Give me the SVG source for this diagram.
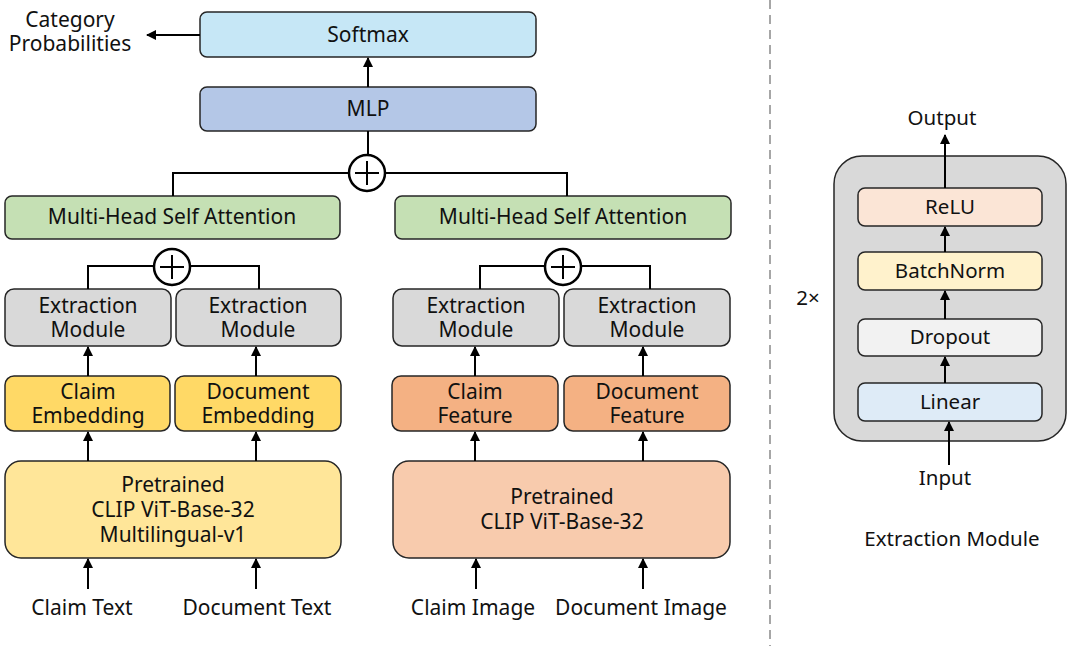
<svg xmlns="http://www.w3.org/2000/svg" width="1067" height="646" viewBox="0 0 1067 646">
  <style>
    .box { stroke: #262626; stroke-width: 1.5; }
    .t { font-family: "Noto Sans", "Open Sans", sans-serif; font-size: 21px; fill: #111; text-anchor: middle; }
    .s { font-family: "Noto Sans", "Open Sans", sans-serif; font-size: 20.5px; fill: #111; text-anchor: middle; }
    .ln { stroke: #000; stroke-width: 2; fill: none; }
    .arr { stroke: #000; stroke-width: 2; fill: none; marker-end: url(#ah); }
  </style>
  <defs>
    <marker id="ah" viewBox="0 0 10 10" refX="9" refY="5" markerWidth="5" markerHeight="5" orient="auto" markerUnits="strokeWidth">
      <path d="M0,0 L10,5 L0,10 z" fill="#000"/>
    </marker>
  </defs>

  <rect width="1067" height="646" fill="#fff"/>

  <!-- output head -->
  <g id="softmax">
    <rect class="box" x="200" y="12" width="336" height="45" rx="7" fill="#c6e7f6"/>
    <text class="t" x="368" y="42">Softmax</text>
  </g>
  <g id="category-probabilities">
    <text class="t" x="70" y="27">Category<tspan x="70" dy="24">Probabilities</tspan></text>
  </g>
  <g id="mlp">
    <rect class="box" x="200" y="87" width="336" height="44" rx="7" fill="#b4c7e7"/>
    <text class="t" x="368" y="116">MLP</text>
  </g>
  <g id="fuse-top">
    <circle cx="367" cy="173" r="18" fill="#fff" stroke="#000" stroke-width="2.5"/>
    <path class="ln" d="M355,173 H379 M367,161 V185" stroke-width="2.5"/>
  </g>

  <!-- text branch -->
  <g id="mhsa-text">
    <rect class="box" x="5" y="196" width="335" height="43" rx="7" fill="#c5e0b4"/>
    <text class="t" x="172" y="224">Multi-Head Self Attention</text>
  </g>
  <g id="fuse-text">
    <circle cx="172" cy="267" r="18" fill="#fff" stroke="#000" stroke-width="2.5"/>
    <path class="ln" d="M160,267 H184 M172,255 V279" stroke-width="2.5"/>
  </g>
  <g id="extract-claim-text">
    <rect class="box" x="5" y="289" width="166" height="57" rx="9" fill="#d9d9d9"/>
    <text class="t" x="88" y="313">Extraction<tspan x="88" dy="24">Module</tspan></text>
  </g>
  <g id="extract-doc-text">
    <rect class="box" x="176" y="289" width="165" height="57" rx="9" fill="#d9d9d9"/>
    <text class="t" x="258" y="313">Extraction<tspan x="258" dy="24">Module</tspan></text>
  </g>
  <g id="claim-embedding">
    <rect class="box" x="5" y="376" width="165" height="55" rx="9" fill="#ffd966"/>
    <text class="t" x="88" y="399">Claim<tspan x="88" dy="24">Embedding</tspan></text>
  </g>
  <g id="document-embedding">
    <rect class="box" x="175" y="376" width="166" height="55" rx="9" fill="#ffd966"/>
    <text class="t" x="258" y="399">Document<tspan x="258" dy="24">Embedding</tspan></text>
  </g>
  <g id="clip-text">
    <rect class="box" x="5" y="461" width="336" height="97" rx="16" fill="#ffe699"/>
    <text class="t" x="173" y="492">Pretrained<tspan x="173" dy="25">CLIP ViT-Base-32</tspan><tspan x="173" dy="25">Multilingual-v1</tspan></text>
  </g>
  <g id="claim-text">
    <text class="t" x="82" y="615">Claim Text</text>
  </g>
  <g id="document-text">
    <text class="t" x="257" y="615">Document Text</text>
  </g>

  <!-- image branch -->
  <g id="mhsa-image">
    <rect class="box" x="395" y="196" width="336" height="43" rx="7" fill="#c5e0b4"/>
    <text class="t" x="563" y="224">Multi-Head Self Attention</text>
  </g>
  <g id="fuse-image">
    <circle cx="563" cy="267" r="18" fill="#fff" stroke="#000" stroke-width="2.5"/>
    <path class="ln" d="M551,267 H575 M563,255 V279" stroke-width="2.5"/>
  </g>
  <g id="extract-claim-image">
    <rect class="box" x="393" y="289" width="166" height="57" rx="9" fill="#d9d9d9"/>
    <text class="t" x="476" y="313">Extraction<tspan x="476" dy="24">Module</tspan></text>
  </g>
  <g id="extract-doc-image">
    <rect class="box" x="564" y="289" width="166" height="57" rx="9" fill="#d9d9d9"/>
    <text class="t" x="647" y="313">Extraction<tspan x="647" dy="24">Module</tspan></text>
  </g>
  <g id="claim-feature">
    <rect class="box" x="392" y="376" width="166" height="55" rx="9" fill="#f4b183"/>
    <text class="t" x="475" y="399">Claim<tspan x="475" dy="24">Feature</tspan></text>
  </g>
  <g id="document-feature">
    <rect class="box" x="564" y="376" width="166" height="55" rx="9" fill="#f4b183"/>
    <text class="t" x="647" y="399">Document<tspan x="647" dy="24">Feature</tspan></text>
  </g>
  <g id="clip-image">
    <rect class="box" x="393" y="461" width="337" height="97" rx="16" fill="#f8cbad"/>
    <text class="t" x="562" y="504">Pretrained<tspan x="562" dy="25">CLIP ViT-Base-32</tspan></text>
  </g>
  <g id="claim-image">
    <text class="t" x="473" y="615">Claim Image</text>
  </g>
  <g id="document-image">
    <text class="t" x="641" y="615">Document Image</text>
  </g>

  <!-- separator -->
  <line x1="770" y1="0" x2="770" y2="646" stroke="#a6a6a6" stroke-width="2" stroke-dasharray="9,6"/>

  <!-- extraction module detail -->
  <g id="extraction-module">
    <rect class="box" x="834" y="156" width="232" height="285" rx="28" fill="#d9d9d9"/>
    <text class="s" x="808" y="305">2×</text>
    <text class="s" x="952" y="546">Extraction Module</text>
  </g>
  <g id="relu">
    <rect class="box" x="858" y="188" width="184" height="38" rx="7" fill="#fbe5d6"/>
    <text class="s" x="950" y="214">ReLU</text>
  </g>
  <g id="batchnorm">
    <rect class="box" x="858" y="252" width="184" height="38" rx="7" fill="#fff2cc"/>
    <text class="s" x="950" y="278">BatchNorm</text>
  </g>
  <g id="dropout">
    <rect class="box" x="858" y="319" width="184" height="37" rx="7" fill="#f2f2f2"/>
    <text class="s" x="950" y="344">Dropout</text>
  </g>
  <g id="linear">
    <rect class="box" x="858" y="383" width="184" height="38" rx="7" fill="#deebf7"/>
    <text class="s" x="950" y="409">Linear</text>
  </g>
  <g id="output-label">
    <text class="s" x="942" y="125">Output</text>
  </g>
  <g id="input-label">
    <text class="s" x="945" y="485">Input</text>
  </g>

  <!-- connectors -->
  <g id="connectors">
    <path class="arr" d="M200,35 H147"/>
    <path class="arr" d="M368,87 V58"/>
    <path class="ln" d="M368,131 V155"/>
    <path class="ln" d="M349,173 H173 V196 M385,173 H567 V196"/>

    <path class="ln" d="M154,266 H88 V289 M190,266 H259 V289"/>
    <path class="arr" d="M88,376 V347"/>
    <path class="arr" d="M256,376 V347"/>
    <path class="arr" d="M88,461 V432"/>
    <path class="arr" d="M256,461 V432"/>
    <path class="arr" d="M88,589 V559"/>
    <path class="arr" d="M256,589 V559"/>

    <path class="ln" d="M545,266 H480 V289 M581,266 H650 V289"/>
    <path class="arr" d="M475,376 V347"/>
    <path class="arr" d="M643,376 V347"/>
    <path class="arr" d="M475,461 V432"/>
    <path class="arr" d="M643,461 V432"/>
    <path class="arr" d="M476,589 V559"/>
    <path class="arr" d="M643,589 V559"/>

    <path class="arr" d="M945,188 V135"/>
    <path class="arr" d="M945,252 V227"/>
    <path class="arr" d="M945,319 V291"/>
    <path class="arr" d="M945,383 V357"/>
    <path class="arr" d="M949,465 V422"/>
  </g>
</svg>
